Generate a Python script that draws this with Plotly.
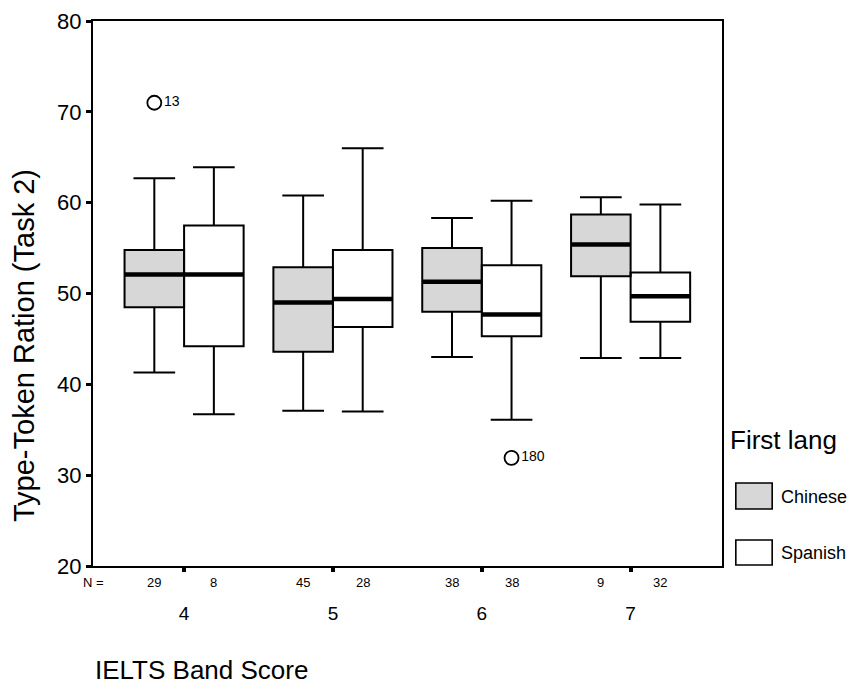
import plotly.graph_objects as go

# IELTS band score groups and number of cases per first language
bands = ["4", "5", "6", "7"]
n_chinese = [29, 45, 38, 9]
n_spanish = [8, 28, 38, 32]

# Five-number summaries of the type-token ratio (Task 2)
chinese_low = [41.3, 37.1, 43.0, 42.9]
chinese_q1 = [48.5, 43.6, 48.0, 51.9]
chinese_med = [52.1, 49.0, 51.3, 55.4]
chinese_q3 = [54.8, 52.9, 55.0, 58.7]
chinese_high = [62.7, 60.8, 58.3, 60.6]

spanish_low = [36.7, 37.0, 36.1, 42.9]
spanish_q1 = [44.2, 46.3, 45.3, 46.9]
spanish_med = [52.1, 49.4, 47.7, 49.7]
spanish_q3 = [57.5, 54.8, 53.1, 52.3]
spanish_high = [63.9, 66.0, 60.2, 59.8]

# Outlying cases (band, language, value, case number)
outlier_band = ["4", "6"]
outlier_lang = ["Chinese", "Spanish"]
outlier_value = [71.0, 31.9]
outlier_case = ["13", "180"]

# ---- layout geometry (pixels) ----
W, H = 854, 689
ML, MR, MT, MB = 93, 10, 21, 123
PW, PH = W - ML - MR, H - MT - MB
PLOT_RIGHT = 722


def px_x(px):
    return (px - ML) / PW


def px_y(py):
    return (H - MB - py) / PH


FONT = "Arial, Liberation Sans, sans-serif"
OFFSET = {"Chinese": -0.2, "Spanish": 0.2}
BOX_W = 0.4
STIPPLE = dict(shape=".", fgcolor="#b4b4b4", bgcolor="#f3f3f3", size=2,
               solidity=0.5, fillmode="replace")

groups = [
    ("Chinese", n_chinese, chinese_low, chinese_q1, chinese_med, chinese_q3, chinese_high),
    ("Spanish", n_spanish, spanish_low, spanish_q1, spanish_med, spanish_q3, spanish_high),
]

fig = go.Figure()

med_x, med_y = [], []
for lang, ns, low, q1, med, q3, high in groups:
    pos = [i + OFFSET[lang] for i in range(len(bands))]
    # box body fill
    marker = dict(color="white", line=dict(width=0))
    if lang == "Chinese":
        marker["pattern"] = STIPPLE
    fig.add_trace(go.Bar(
        x=pos, y=[b - a for a, b in zip(q1, q3)], base=q1, width=BOX_W,
        marker=marker, showlegend=False, hoverinfo="skip",
    ))
    # box outline and whiskers
    fig.add_trace(go.Box(
        name=lang, x=pos, q1=q1, median=med, q3=q3,
        lowerfence=low, upperfence=high, width=BOX_W, whiskerwidth=0.7,
        line=dict(color="black", width=2), fillcolor="rgba(0,0,0,0)",
        boxpoints=False, showlegend=False,
    ))
    for p, m in zip(pos, med):
        med_x += [p - BOX_W / 2, p + BOX_W / 2, None]
        med_y += [m, m, None]

# thick median bars
fig.add_trace(go.Scatter(
    x=med_x, y=med_y, mode="lines", line=dict(color="black", width=4.5),
    showlegend=False, hoverinfo="skip",
))

# outliers with case numbers
fig.add_trace(go.Scatter(
    x=[bands.index(b) + OFFSET[l] for b, l in zip(outlier_band, outlier_lang)],
    y=outlier_value, mode="markers+text", text=outlier_case,
    textposition="middle right", textfont=dict(size=14, color="black", family=FONT),
    marker=dict(symbol="circle-open", size=14, color="black", line=dict(width=1.8)),
    showlegend=False, cliponaxis=False,
))

# legend swatches drawn on a small auxiliary axis pair
fig.add_trace(go.Bar(
    x=[0.5], y=[26], base=[57], width=[1], xaxis="x2", yaxis="y2",
    marker=dict(color="white", pattern=STIPPLE, line=dict(color="black", width=1.6)),
    showlegend=False, hoverinfo="skip",
))
fig.add_trace(go.Bar(
    x=[0.5], y=[25], base=[1], width=[1], xaxis="x2", yaxis="y2",
    marker=dict(color="white", line=dict(color="black", width=1.6)),
    showlegend=False, hoverinfo="skip",
))

annotations = []
# N = row
annotations.append(dict(text="N =", xref="paper", x=0, xanchor="center",
                        yref="paper", y=0, yanchor="middle", yshift=-16,
                        showarrow=False, font=dict(size=13)))
for lang, ns, *_ in groups:
    for i, n in enumerate(ns):
        annotations.append(dict(text=str(n), xref="x", x=i + OFFSET[lang], xanchor="center",
                                yref="paper", y=0, yanchor="middle", yshift=-16,
                                showarrow=False, font=dict(size=13)))
# axis titles
annotations.append(dict(text="IELTS Band Score", xref="paper", x=0, xanchor="left",
                        yref="paper", y=0, yanchor="middle", yshift=-(670 - (H - MB)),
                        showarrow=False, font=dict(size=26)))
annotations.append(dict(text="Type-Token Ration (Task 2)", textangle=-90,
                        xref="paper", x=px_x(24), xanchor="center",
                        yref="paper", y=px_y(346), yanchor="middle",
                        showarrow=False, font=dict(size=29)))
# legend texts
annotations.append(dict(text="First lang", xref="paper", x=px_x(728), xanchor="left",
                        yref="paper", y=px_y(440), yanchor="middle",
                        showarrow=False, font=dict(size=26)))
annotations.append(dict(text="Chinese", xref="paper", x=px_x(779), xanchor="left",
                        yref="paper", y=px_y(497), yanchor="middle",
                        showarrow=False, font=dict(size=18)))
annotations.append(dict(text="Spanish", xref="paper", x=px_x(779), xanchor="left",
                        yref="paper", y=px_y(553), yanchor="middle",
                        showarrow=False, font=dict(size=18)))

fig.update_layout(
    width=W, height=H,
    margin=dict(l=ML, r=MR, t=MT, b=MB, autoexpand=False),
    paper_bgcolor="white", plot_bgcolor="white",
    font=dict(family=FONT, color="black"),
    boxmode="overlay", barmode="overlay", showlegend=False,
    annotations=annotations,
    xaxis=dict(
        domain=[0, px_x(PLOT_RIGHT)], range=[-0.612, 3.614],
        tickvals=list(range(len(bands))), ticktext=bands,
        tickfont=dict(size=19), ticklabelstandoff=25,
        ticks="outside", ticklen=4, tickwidth=4, tickcolor="black",
        showline=True, linecolor="black", linewidth=2, mirror=True,
        showgrid=False, zeroline=False,
    ),
    yaxis=dict(
        range=[20, 80], tick0=20, dtick=10,
        tickfont=dict(size=22),
        ticks="outside", ticklen=5, tickwidth=3, tickcolor="black",
        showline=True, linecolor="black", linewidth=2, mirror=True,
        showgrid=False, zeroline=False,
    ),
    xaxis2=dict(domain=[px_x(734), px_x(774)], range=[-0.05, 1.05], anchor="y2",
                visible=False, fixedrange=True),
    yaxis2=dict(domain=[0, px_y(481)], range=[0, 85], anchor="x2",
                visible=False, fixedrange=True),
)

fig.write_html("out.html")
